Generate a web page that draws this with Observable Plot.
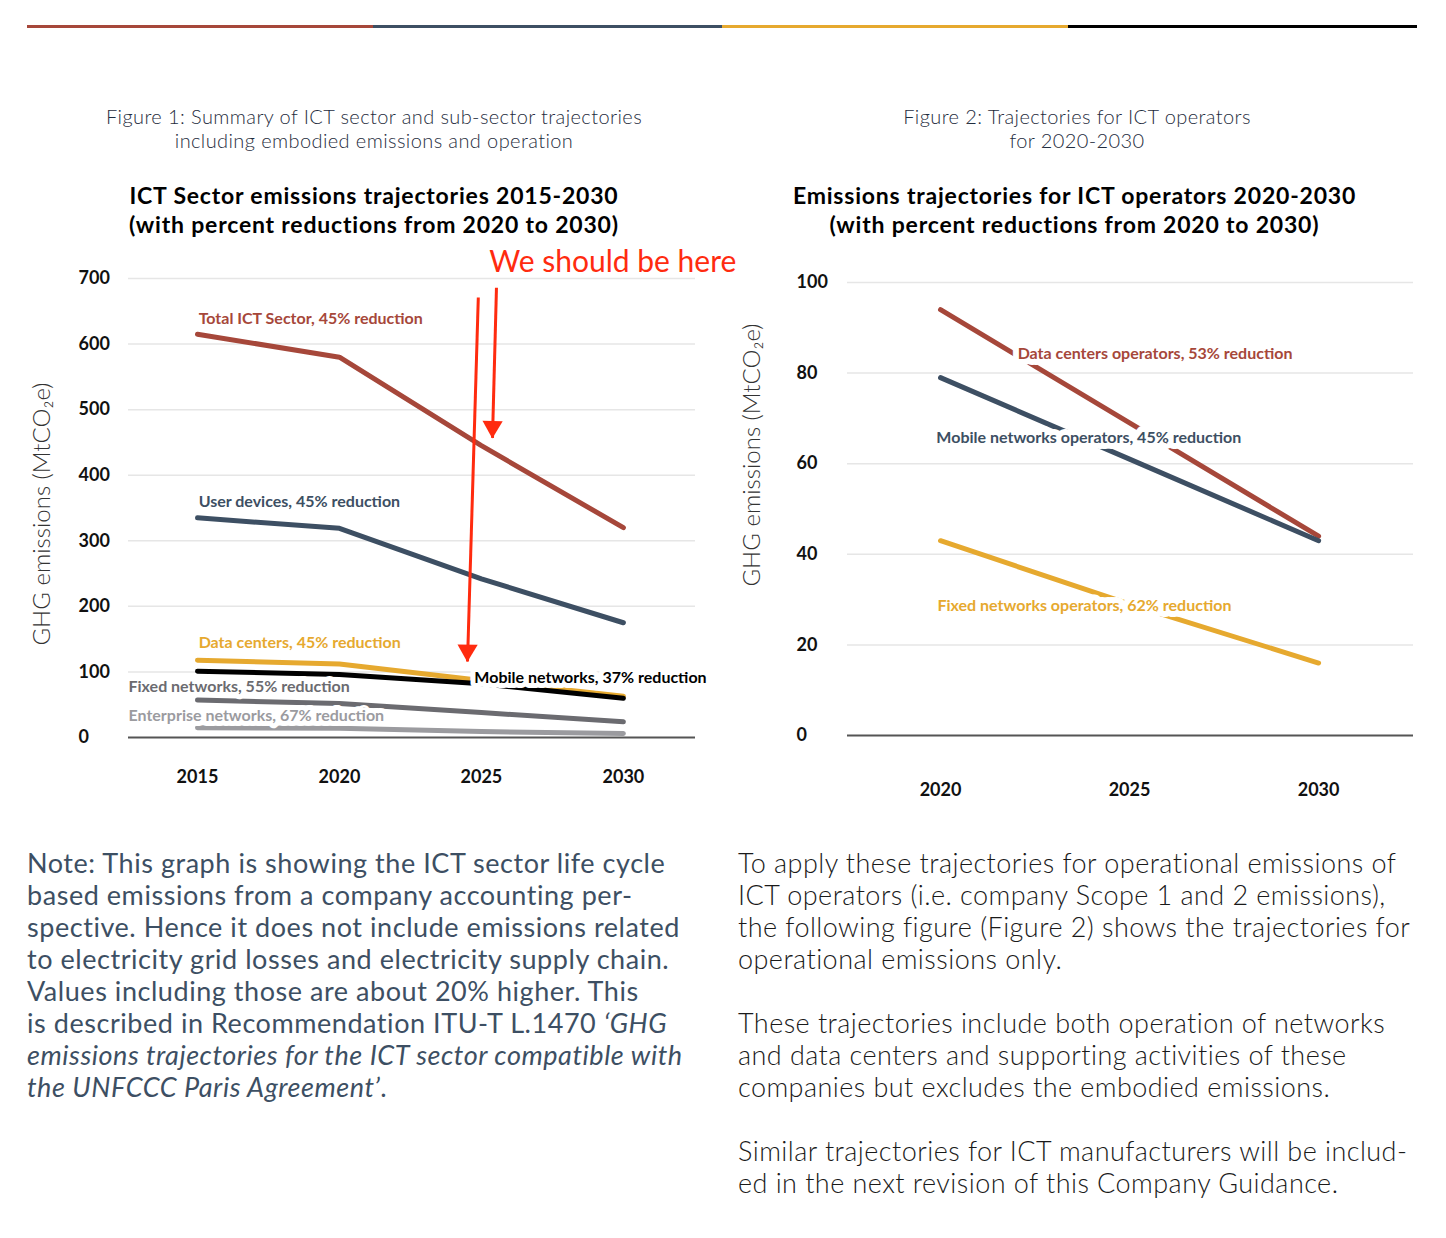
<!DOCTYPE html>
<html>
<head>
<meta charset="utf-8">
<script src="https://cdn.jsdelivr.net/npm/d3@7"></script>
<script src="https://cdn.jsdelivr.net/npm/@observablehq/plot@0.6"></script>
<style>
  html, body { margin: 0; padding: 0; background: #fff; }
  #page { position: relative; width: 1446px; height: 1238px; overflow: hidden; font-family: Lato, "Open Sans", sans-serif; }
  .bar { position: absolute; top: 25px; height: 3px; }
  .cap { position: absolute; top: 104px; font-weight: 300; font-size: 20px; letter-spacing: 0.4px; line-height: 24px; color: #1f2d40; text-align: center; white-space: nowrap; }
  .title { position: absolute; top: 181px; font-weight: 700; font-size: 23px; letter-spacing: 0.8px; line-height: 29px; color: #000; text-align: center; white-space: nowrap; }
  .chart { position: absolute; top: 240px; }
  .note { position: absolute; left: 27px; top: 847px; font-size: 27px; letter-spacing: 0.55px; line-height: 32px; color: #3d4f63; white-space: nowrap; }
  .txt { position: absolute; left: 738px; top: 847px; font-size: 27px; letter-spacing: 0.45px; font-weight: 300; line-height: 32px; color: #1a1a1a; white-space: nowrap; }
</style>
</head>
<body>
<div id="page">
  <div class="bar" style="left:27px;width:346px;background:#a6473a"></div>
  <div class="bar" style="left:373px;width:349px;background:#3d4f63"></div>
  <div class="bar" style="left:722px;width:346px;background:#e6a92f"></div>
  <div class="bar" style="left:1068px;width:349px;background:#000"></div>

  <div class="cap" style="left:0;width:748px">Figure 1: Summary of ICT sector and sub-sector trajectories<br>including embodied emissions and operation</div>
  <div class="cap" style="left:730px;width:694px">Figure 2: Trajectories for ICT operators<br>for 2020-2030</div>

  <div class="title" style="left:0;width:748px">ICT Sector emissions trajectories 2015-2030<br>(with percent reductions from 2020 to 2030)</div>
  <div class="title" style="left:730px;width:689px">Emissions trajectories for ICT operators 2020-2030<br>(with percent reductions from 2020 to 2030)</div>

  <div class="chart" id="c1" style="left:0"></div>
  <div class="chart" id="c2" style="left:730px"></div>

  <div class="note">Note: This graph is showing the ICT sector life cycle<br>based emissions from a company accounting per-<br>spective. Hence it does not include emissions related<br>to electricity grid losses and electricity supply chain.<br>Values including those are about 20% higher. This<br>is described in Recommendation ITU-T L.1470 <i>‘GHG</i><br><i>emissions trajectories for the ICT sector compatible with</i><br><i>the UNFCCC Paris Agreement’</i>.</div>

  <div class="txt">To apply these trajectories for operational emissions of<br>ICT operators (i.e. company Scope 1 and 2 emissions),<br>the following figure (Figure 2) shows the trajectories for<br>operational emissions only.<br><br>These trajectories include both operation of networks<br>and data centers and supporting activities of these<br>companies but excludes the embodied emissions.<br><br>Similar trajectories for ICT manufacturers will be includ-<br>ed in the next revision of this Company Guidance.</div>
</div>

<script>
// ---------- Figure 1 data ----------
const years1 = [2015, 2020, 2025, 2030];
const yTicks1 = [0, 100, 200, 300, 400, 500, 600, 700];
const series1 = ["Total ICT Sector", "User devices", "Data centers", "Mobile networks", "Fixed networks", "Enterprise networks"];
const totalICT = [615, 580, 445, 320];
const userDevices = [335, 319, 242, 175];
const dataCenters = [118, 112, 87, 63];
const mobileNetworks = [101, 96, 82, 60];
const fixedNetworks = [57, 52, 38, 24];
const enterpriseNetworks = [15, 14, 9, 6];
const reductions1 = ["45%", "45%", "45%", "37%", "55%", "67%"];

// ---------- Figure 2 data ----------
const years2 = [2020, 2025, 2030];
const yTicks2 = [0, 20, 40, 60, 80, 100];
const series2 = ["Data centers operators", "Mobile networks operators", "Fixed networks operators"];
const dataCentersOps = [94, 69, 44];
const mobileNetworksOps = [79, 61, 43];
const fixedNetworksOps = [43, 29, 16];
const reductions2 = ["53%", "45%", "62%"];

// ---------- styles ----------
const colors1 = ["#a6473a", "#3d4f63", "#e6a92f", "#000000", "#6b6b70", "#9b9b9f"];
const colors2 = ["#a6473a", "#3d4f63", "#e6a92f"];
const red = "#ff2b0f";

// ---------- annotation anchors (data units) ----------
const labelPos1 = [
  {x: 2015.04, y: 639}, {x: 2015.04, y: 360}, {x: 2015.04, y: 145},
  {x: 2024.75, y: 91.5}, {x: 2012.57, y: 77}, {x: 2012.57, y: 33.5}
];
const labelPos2 = [{x: 2022.04, y: 84.3}, {x: 2019.89, y: 65.8}, {x: 2019.92, y: 28.7}];
const arrows = [
  {x1: 2025.53, y1: 686, x2: 2025.39, y2: 457},
  {x1: 2024.89, y1: 671, x2: 2024.51, y2: 116}
];
const redNote = [{x: 2025.28, y: 724, text: "We should be here"}];

// ---------- build tables ----------
const vals1 = [totalICT, userDevices, dataCenters, mobileNetworks, fixedNetworks, enterpriseNetworks];
const rows1 = series1.flatMap((s, i) => years1.map((yr, j) => ({series: s, year: yr, value: vals1[i][j]})));
const labels1 = series1.map((s, i) => ({series: s, text: `${s}, ${reductions1[i]} reduction`, ...labelPos1[i]}));
const vals2 = [dataCentersOps, mobileNetworksOps, fixedNetworksOps];
const rows2 = series2.flatMap((s, i) => years2.map((yr, j) => ({series: s, year: yr, value: vals2[i][j]})));
const labels2 = series2.map((s, i) => ({series: s, text: `${s}, ${reductions2[i]} reduction`, ...labelPos2[i]}));

const font = "Lato, 'Open Sans', sans-serif";
const yLabel = "GHG emissions (MtCO₂e)";

function spacing(svg, label, px) {
  d3.select(svg).selectAll(`g[aria-label="${label}"] text`).style("letter-spacing", px);
}

// Figure 1
const c1 = Plot.plot({
  width: 730, height: 560,
  marginLeft: 128, marginRight: 35, marginTop: 38, marginBottom: 63,
  x: {domain: [2012.57, 2032.54], axis: null},
  y: {domain: [0, 700], axis: null},
  color: {domain: series1, range: colors1},
  style: {fontFamily: font, background: "transparent", overflow: "visible"},
  marks: [
    Plot.ruleY(yTicks1.filter(d => d > 0), {stroke: "#e6e6e6", strokeWidth: 1.5}),
    Plot.ruleY([0], {stroke: "#555", strokeWidth: 2}),
    ...series1.map(s => Plot.line(rows1.filter(r => r.series === s), {x: "year", y: "value", stroke: "series", strokeWidth: 5, strokeLinecap: "round", strokeLinejoin: "round"})),
    Plot.text(labels1, {x: "x", y: "y", text: "text", fill: "series", textAnchor: "start", fontWeight: 700, fontSize: 16, stroke: "white", strokeWidth: 10, strokeLinejoin: "round", ariaLabel: "series-labels"}),
    Plot.text(yTicks1, {y: d => d, text: d => String(d), frameAnchor: "left", dx: -50, textAnchor: "start", fontWeight: 700, fontSize: 18, fill: "#111"}),
    Plot.text(years1, {x: d => d, text: d => String(d), frameAnchor: "bottom", dy: 45, fontWeight: 700, fontSize: 18, fill: "#111"}),
    Plot.text([yLabel], {text: d => d, frameAnchor: "left", textAnchor: "middle", dx: -86, dy: 6, rotate: -90, fontSize: 24, fontWeight: 300, fill: "#333", ariaLabel: "y-title"}),
    Plot.link(arrows, {x1: "x1", y1: "y1", x2: "x2", y2: "y2", stroke: red, strokeWidth: 3}),
    Plot.dot(arrows, {x: "x2", y: "y2", symbol: "triangle", r: 7.5, fill: red, rotate: 181, dy: -11}),
    Plot.text(redNote, {x: "x", y: "y", text: "text", textAnchor: "start", fill: red, fontSize: 30, fontWeight: 400})
  ]
});
spacing(c1, "series-labels", "0.35px");
spacing(c1, "y-title", "0.3px");
document.getElementById("c1").append(c1);

// Figure 2
const c2 = Plot.plot({
  width: 716, height: 560,
  marginLeft: 117, marginRight: 33, marginTop: 42, marginBottom: 65,
  x: {domain: [2017.54, 2032.51], axis: null},
  y: {domain: [0, 100], axis: null},
  color: {domain: series2, range: colors2},
  style: {fontFamily: font, background: "transparent", overflow: "visible"},
  marks: [
    Plot.ruleY(yTicks2.filter(d => d > 0), {stroke: "#e6e6e6", strokeWidth: 1.5}),
    Plot.ruleY([0], {stroke: "#555", strokeWidth: 2}),
    ...series2.map(s => Plot.line(rows2.filter(r => r.series === s), {x: "year", y: "value", stroke: "series", strokeWidth: 5, strokeLinecap: "round", strokeLinejoin: "round"})),
    Plot.text(labels2, {x: "x", y: "y", text: "text", fill: "series", textAnchor: "start", fontWeight: 700, fontSize: 16, stroke: "white", strokeWidth: 12, strokeLinejoin: "round", ariaLabel: "series-labels"}),
    Plot.text(yTicks2, {y: d => d, text: d => String(d), frameAnchor: "left", dx: -51, textAnchor: "start", fontWeight: 700, fontSize: 18, fill: "#111"}),
    Plot.text(years2, {x: d => d, text: d => String(d), frameAnchor: "bottom", dy: 60, fontWeight: 700, fontSize: 18, fill: "#111"}),
    Plot.text([yLabel], {text: d => d, frameAnchor: "left", textAnchor: "middle", dx: -95, dy: -54, rotate: -90, fontSize: 24, fontWeight: 300, fill: "#333", ariaLabel: "y-title"})
  ]
});
spacing(c2, "series-labels", "0.45px");
spacing(c2, "y-title", "0.3px");
document.getElementById("c2").append(c2);
</script>
</body>
</html>
